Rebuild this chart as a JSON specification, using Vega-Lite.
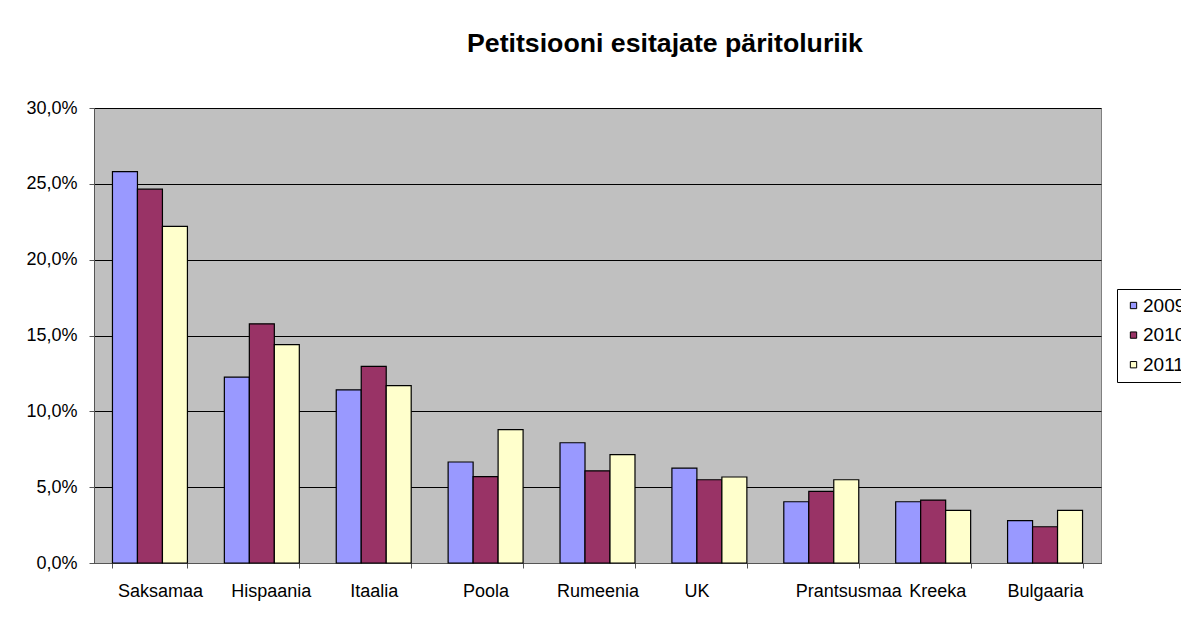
{
  "$schema": "https://vega.github.io/schema/vega-lite/v6.json",
  "width": 1007,
  "height": 455,
  "autosize": {"type": "none"},
  "padding": {"left": 94, "top": 108, "right": 80, "bottom": 54},
  "background": "white",
  "title": {
    "text": "Petitsiooni esitajate päritoluriik",
    "font": "Liberation Sans",
    "fontSize": 26.7,
    "fontWeight": "bold",
    "color": "black",
    "anchor": "start",
    "frame": "group",
    "dx": 373,
    "baseline": "alphabetic",
    "offset": 20
  },
  "data": {
    "values": [
      {"country": "Saksamaa", "year": "2009", "value": 0.258},
      {"country": "Saksamaa", "year": "2010", "value": 0.2465},
      {"country": "Saksamaa", "year": "2011", "value": 0.222},
      {"country": "Hispaania", "year": "2009", "value": 0.1226},
      {"country": "Hispaania", "year": "2010", "value": 0.1577},
      {"country": "Hispaania", "year": "2011", "value": 0.144},
      {"country": "Itaalia", "year": "2009", "value": 0.1142},
      {"country": "Itaalia", "year": "2010", "value": 0.1296},
      {"country": "Itaalia", "year": "2011", "value": 0.1169},
      {"country": "Poola", "year": "2009", "value": 0.0666},
      {"country": "Poola", "year": "2010", "value": 0.0569},
      {"country": "Poola", "year": "2011", "value": 0.0879},
      {"country": "Rumeenia", "year": "2009", "value": 0.0793},
      {"country": "Rumeenia", "year": "2010", "value": 0.0608},
      {"country": "Rumeenia", "year": "2011", "value": 0.0714},
      {"country": "UK", "year": "2009", "value": 0.0626},
      {"country": "UK", "year": "2010", "value": 0.0549},
      {"country": "UK", "year": "2011", "value": 0.0567},
      {"country": "Prantsusmaa", "year": "2009", "value": 0.0404},
      {"country": "Prantsusmaa", "year": "2010", "value": 0.0472},
      {"country": "Prantsusmaa", "year": "2011", "value": 0.0549},
      {"country": "Kreeka", "year": "2009", "value": 0.0404},
      {"country": "Kreeka", "year": "2010", "value": 0.0415},
      {"country": "Kreeka", "year": "2011", "value": 0.0347},
      {"country": "Bulgaaria", "year": "2009", "value": 0.0279},
      {"country": "Bulgaaria", "year": "2010", "value": 0.0239},
      {"country": "Bulgaaria", "year": "2011", "value": 0.0347}
    ]
  },
  "mark": {"type": "bar", "stroke": "black", "strokeWidth": 1.2},
  "encoding": {
    "x": {
      "field": "country",
      "type": "nominal",
      "sort": null,
      "scale": {"paddingInner": 0.33, "paddingOuter": 0.165},
      "axis": {
        "title": null,
        "labelAngle": 0,
        "labelFont": "Liberation Sans",
        "labelFontSize": 18,
        "labelColor": "black",
        "labelPadding": 14,
        "tickBand": "extent",
        "tickSize": 5,
        "tickColor": "#555555",
        "domainColor": "#555555",
        "grid": false,
        "labelOffset": {
          "condition": [
            {"test": "datum.value === 'Saksamaa'", "value": 10},
            {"test": "datum.value === 'Hispaania'", "value": 9},
            {"test": "datum.value === 'UK'", "value": -13},
            {"test": "datum.value === 'Prantsusmaa'", "value": 27},
            {"test": "datum.value === 'Kreeka'", "value": 4}
          ],
          "value": 0
        }
      }
    },
    "xOffset": {"field": "year", "type": "nominal", "scale": {"paddingInner": 0, "paddingOuter": 0}},
    "y": {
      "field": "value",
      "type": "quantitative",
      "scale": {"domain": [0, 0.3], "nice": false},
      "axis": {
        "title": null,
        "values": [0, 0.05, 0.1, 0.15, 0.2, 0.25, 0.3],
        "labelExpr": "replace(format(datum.value, '.1%'), '.', ',')",
        "labelFont": "Liberation Sans",
        "labelFontSize": 18,
        "labelColor": "black",
        "labelPadding": 12,
        "tickSize": 5,
        "tickColor": "#555555",
        "domainColor": "#555555",
        "gridColor": "black",
        "gridOpacity": 1,
        "gridWidth": 1
      }
    },
    "color": {
      "field": "year",
      "type": "nominal",
      "scale": {"domain": ["2009", "2010", "2011"], "range": ["#9999FF", "#993366", "#FFFFCC"]},
      "legend": {
        "title": null,
        "orient": "none",
        "legendX": 1023,
        "legendY": 181,
        "direction": "vertical",
        "fillColor": "white",
        "strokeColor": "black",
        "padding": 7,
        "symbolType": "square",
        "symbolSize": 40,
        "symbolOffset": 0,
        "symbolStrokeColor": "black",
        "symbolStrokeWidth": 1,
        "labelFont": "Liberation Sans",
        "labelFontSize": 19,
        "labelColor": "black",
        "labelOffset": 0,
        "rowPadding": 9.6
      }
    }
  },
  "config": {
    "view": {"fill": "#C0C0C0", "stroke": "#808080", "strokeWidth": 1}
  }
}
